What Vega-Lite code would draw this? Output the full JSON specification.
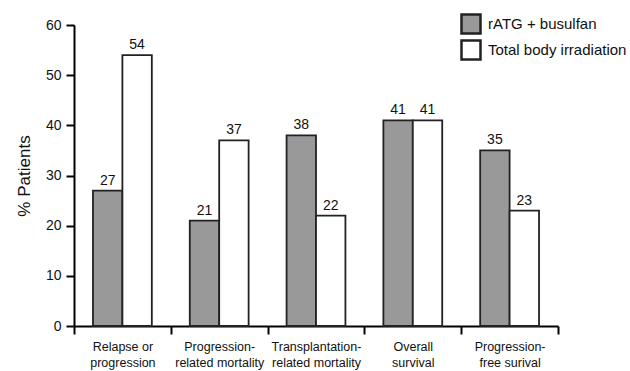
{
  "$schema": "https://vega.github.io/schema/vega-lite/v6.json",
  "width": 484,
  "height": 301,
  "autosize": {"type": "none"},
  "padding": {"left": 74, "top": 25, "right": 72, "bottom": 45},
  "background": "white",
  "config": {"view": {"stroke": null}, "font": "Liberation Sans"},
  "data": {
    "values": [
      {"outcome": "Relapse or|progression", "regimen": "rATG + busulfan", "pct": 27},
      {"outcome": "Relapse or|progression", "regimen": "Total body irradiation", "pct": 54},
      {"outcome": "Progression-|related mortality", "regimen": "rATG + busulfan", "pct": 21},
      {"outcome": "Progression-|related mortality", "regimen": "Total body irradiation", "pct": 37},
      {"outcome": "Transplantation-|related mortality", "regimen": "rATG + busulfan", "pct": 38},
      {"outcome": "Transplantation-|related mortality", "regimen": "Total body irradiation", "pct": 22},
      {"outcome": "Overall|survival", "regimen": "rATG + busulfan", "pct": 41},
      {"outcome": "Overall|survival", "regimen": "Total body irradiation", "pct": 41},
      {"outcome": "Progression-|free surival", "regimen": "rATG + busulfan", "pct": 35},
      {"outcome": "Progression-|free surival", "regimen": "Total body irradiation", "pct": 23}
    ]
  },
  "encoding": {
    "x": {
      "field": "outcome", "type": "nominal", "sort": null,
      "scale": {"paddingInner": 0, "paddingOuter": 0},
      "axis": {
        "title": null, "labelAngle": 0, "tickBand": "extent",
        "domainWidth": 2, "domainColor": "#000", "tickWidth": 2, "tickColor": "#000", "tickSize": 8,
        "labelFontSize": 12.5, "labelLineHeight": 16, "labelColor": "#111",
        "labelExpr": "split(datum.label, '|')", "labelPadding": 6
      }
    },
    "xOffset": {
      "field": "regimen", "type": "nominal",
      "sort": ["rATG + busulfan", "Total body irradiation"],
      "scale": {"paddingInner": 0, "paddingOuter": 0.645}
    },
    "y": {
      "field": "pct", "type": "quantitative",
      "scale": {"domain": [0, 60]},
      "axis": {
        "values": [0, 10, 20, 30, 40, 50, 60], "grid": false,
        "domainWidth": 2, "domainColor": "#000", "tickWidth": 2, "tickColor": "#000", "tickSize": 8,
        "labelFontSize": 14, "labelPadding": 5, "labelColor": "#111",
        "title": "% Patients", "titleFontSize": 17, "titleFontWeight": "normal", "titleColor": "#111", "titlePadding": 12
      }
    }
  },
  "layer": [
    {
      "mark": {"type": "bar", "stroke": "#222", "strokeWidth": 1.8},
      "encoding": {
        "fill": {
          "field": "regimen", "type": "nominal",
          "scale": {"domain": ["rATG + busulfan", "Total body irradiation"], "range": ["#999999", "#ffffff"]},
          "legend": {
            "orient": "none", "legendX": 386, "legendY": -12, "title": null,
            "symbolType": "square", "symbolSize": 361, "symbolStrokeColor": "#222", "symbolStrokeWidth": 2.5,
            "labelFontSize": 15, "labelColor": "#111", "labelOffset": 6, "rowPadding": -5
          }
        }
      }
    },
    {
      "mark": {"type": "text", "dy": -10, "fontSize": 14, "color": "#111"},
      "encoding": {"text": {"field": "pct", "type": "quantitative"}}
    }
  ]
}
